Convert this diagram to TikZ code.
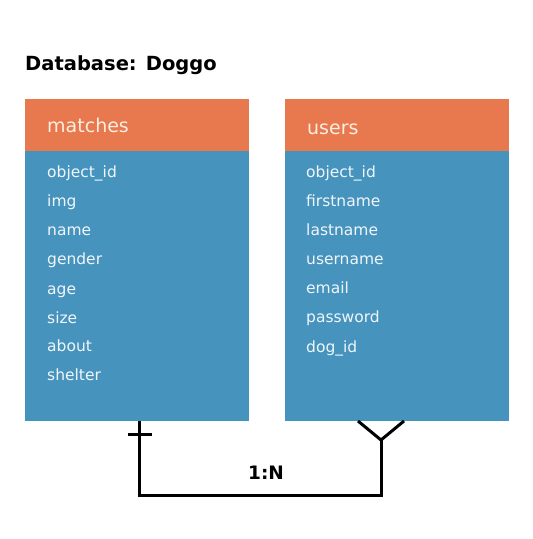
\documentclass[tikz,border=0pt]{standalone}
\usepackage{fontspec}
\setmainfont{DejaVu Sans}
\usepackage{tikz}
\usetikzlibrary{positioning}
\definecolor{headorange}{RGB}{232,121,78}
\definecolor{bodyblue}{RGB}{70,148,190}
\definecolor{headtext}{RGB}{253,238,226}
\definecolor{fieldtext}{RGB}{240,246,250}
\tikzset{
  tablehead/.style={fill=headorange, draw=none, inner sep=0pt,
                    minimum width=224pt, minimum height=52pt},
  tablebody/.style={fill=bodyblue, draw=none, inner sep=0pt,
                    minimum width=224pt, minimum height=270pt},
  headlabel/.style={anchor=base west, inner sep=0pt, text=headtext,
                    font=\fontsize{19}{22}\selectfont},
  fieldlabel/.style={anchor=base west, inner sep=0pt, text=fieldtext,
                     font=\fontsize{15.5}{18}\selectfont},
  titlelabel/.style={anchor=base west, inner sep=0pt,
                     font=\fontsize{19.5}{23}\selectfont\bfseries},
  relline/.style={draw=black, line width=3pt},
  rellabel/.style={inner sep=0pt, font=\fontsize{18.5}{22}\selectfont\bfseries}
}

\begin{document}
\begin{tikzpicture}[x=1pt, y=-1pt]
  \useasboundingbox (0,0) rectangle (533,539);

  % Title
  \node[titlelabel] (title) at (25,70) {Database: Doggo};

  %% Left table: matches
  \node[tablehead] (matcheshead) at (137,125) {};
  \node[tablebody] (matchesbody) at (137,286) {};
  \node[headlabel] (matchesname) at (47,132) {matches};
  \foreach \lbl/\y [count=\i] in {
      object\_id/177, img/206, name/235, gender/264,
      age/294, size/323, about/351, shelter/380}{
    \node[fieldlabel] (matchesfield\i) at (47,\y) {\lbl};
  }

  %% Right table: users
  \node[tablehead] (usershead) at (397,125) {};
  \node[tablebody] (usersbody) at (397,286) {};
  \node[headlabel] (usersname) at (307,134) {users};
  \foreach \lbl/\y [count=\i] in {
      object\_id/177, firstname/206, lastname/235, username/264,
      email/293, password/322, dog\_id/352}{
    \node[fieldlabel] (usersfield\i) at (306,\y) {\lbl};
  }

  %% Relation 1:N
  \coordinate (oneend) at (139,421);
  \coordinate (onebend) at (139,495);
  \coordinate (manybend) at (381,495);
  \coordinate (manyend) at (381,440);
  \coordinate (barleft) at (128,434);
  \coordinate (barright) at (152,434);
  \coordinate (footleft) at (358,421);
  \coordinate (footright) at (404,421);
  \draw[relline] (oneend) -- (onebend) -- (manybend) -- (manyend);
  \draw[relline] (barleft) -- (barright);
  \draw[relline] (footleft) -- (manyend) -- (footright);
  \node[rellabel] (ratio) at (266,473) {1:N};
\end{tikzpicture}
\end{document}
